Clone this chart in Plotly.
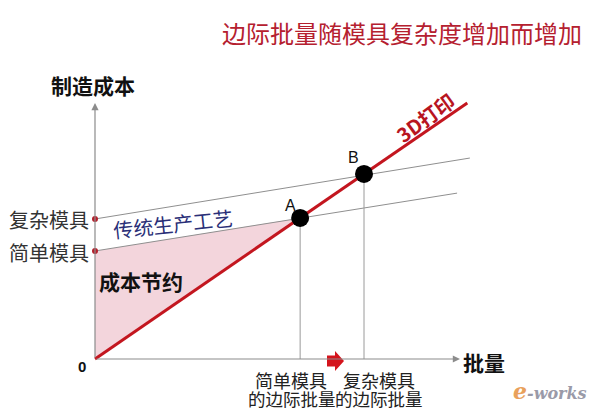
import plotly.graph_objects as go

# ---- data (batch on x, manufacturing cost on y) ----
batch_3d = [0.0, 10.2]
cost_3d = [0.0, 10.0]
batch_simple = [0.0, 9.92]
cost_simple = [4.22, 6.48]
batch_complex = [0.0, 10.27]
cost_complex = [5.47, 7.85]
point_names = ["A", "B"]
point_batch = [5.62, 7.37]
point_cost = [5.51, 7.23]
axis_len = 10.0

title = "边际批量随模具复杂度增加而增加"
CJK = "Noto Sans CJK SC"

# scale: data units -> pixels; page body has an 8px offset
SX, SY = 36.5, 25.6
OFF = 8
X0, Y0 = 95 - OFF, 359 - OFF
xr = [-X0 / SX, (604 - X0) / SX]
yr = [-(415 - Y0) / SY, Y0 / SY]

def dx(px):
    return (px - 95) / SX

def dy(py):
    return (359 - py) / SY

fig = go.Figure()

# savings area
fig.add_trace(go.Scatter(
    x=[0, batch_simple[0], point_batch[0], 0],
    y=[0, cost_simple[0], point_cost[0], 0],
    fill="toself", fillcolor="#f3d5dc", line=dict(width=0),
    mode="lines", hoverinfo="skip", showlegend=False))

# traditional lines
for bx, cy in [(batch_simple, cost_simple), (batch_complex, cost_complex)]:
    fig.add_trace(go.Scatter(x=bx, y=cy, mode="lines",
                             line=dict(color="#8f8f8f", width=1), showlegend=False))

# vertical drop lines
for px, py in zip(point_batch, point_cost):
    fig.add_trace(go.Scatter(x=[px, px], y=[0, py], mode="lines",
                             line=dict(color="#9a9a9a", width=1), showlegend=False))

# 3D printing line
fig.add_trace(go.Scatter(x=batch_3d, y=cost_3d, mode="lines",
                         line=dict(color="#c3161f", width=3), showlegend=False))

# intercept dots
fig.add_trace(go.Scatter(x=[0, 0], y=[cost_simple[0], cost_complex[0]], mode="markers",
                         marker=dict(color="#b3202c", size=6), showlegend=False))

# points A, B
fig.add_trace(go.Scatter(x=point_batch, y=point_cost, mode="markers",
                         marker=dict(color="black", size=18), showlegend=False))

# axes with arrows
for (ex, ey) in [(0, axis_len), (axis_len, 0)]:
    fig.add_annotation(x=ex, y=ey, ax=0, ay=0, xref="x", yref="y", axref="x", ayref="y",
                       text="", showarrow=True, arrowhead=2, arrowsize=1.2,
                       arrowwidth=1.2, arrowcolor="#8c8c8c")

def ann(text, px, py, size, color="#222", bold=False, xanchor="center", angle=0, family=CJK):
    t = f"<b>{text}</b>" if bold else text
    fig.add_annotation(x=dx(px), y=dy(py), xref="x", yref="y", text=t, showarrow=False,
                       xanchor=xanchor, yanchor="middle", textangle=angle,
                       font=dict(family=family, size=size, color=color))

ann(title, 402, 32, 24, "#b5202f")
ann("制造成本", 93, 85, 21, "#111", bold=True)
ann("复杂模具", 91, 219, 20, "#333", xanchor="right")
ann("简单模具", 91, 252, 20, "#333", xanchor="right")
ann("成本节约", 97, 281, 21, "#111", bold=True, xanchor="left")
ann("传统生产工艺", 173, 223, 20, "#2a2f78", angle=-6)
ann("3D打印", 425, 117, 20, "#b8151f", bold=True, angle=-36)
ann(point_names[0], 290, 205, 16, "#111", family="Liberation Sans")
ann(point_names[1], 353, 157, 16, "#111", family="Liberation Sans")
ann("0", 82, 366, 15, "#111", bold=True, family="Liberation Sans")
ann("批量", 461, 362, 21, "#111", bold=True, xanchor="left")
ann("简单模具", 291, 380, 18, "#222")
ann("的边际批量", 292, 398, 17.5, "#222")
ann("复杂模具", 379, 380, 18, "#222")
ann("的边际批量", 379, 398, 17.5, "#222")

# red block arrow between the two labels
cx, cy = dx(335), dy(361)
bw, bh, hw, hh = 8 / SX, 5.5 / SY, 9 / SX, 10 / SY
path = (f"M {cx-bw},{cy-bh} L {cx},{cy-bh} L {cx},{cy-hh} L {cx+hw},{cy} "
        f"L {cx},{cy+hh} L {cx},{cy+bh} L {cx-bw},{cy+bh} Z")
fig.add_shape(type="path", path=path, xref="x", yref="y",
              fillcolor="#d4141c", line=dict(width=0))

# watermark
fig.add_annotation(x=dx(550), y=dy(391), xref="x", yref="y", showarrow=False,
                   text="<i><b><span style='color:#e9a15c;font-size:22px'>e</span>-works</b></i>",
                   font=dict(family="DejaVu Serif", size=16, color="#9a9aa8"))

fig.update_layout(
    width=604, height=415, margin=dict(l=0, r=0, t=0, b=0),
    paper_bgcolor="white", plot_bgcolor="white",
    xaxis=dict(range=xr, visible=False, fixedrange=True),
    yaxis=dict(range=yr, visible=False, fixedrange=True),
    showlegend=False,
)

fig.write_html("out.html")
